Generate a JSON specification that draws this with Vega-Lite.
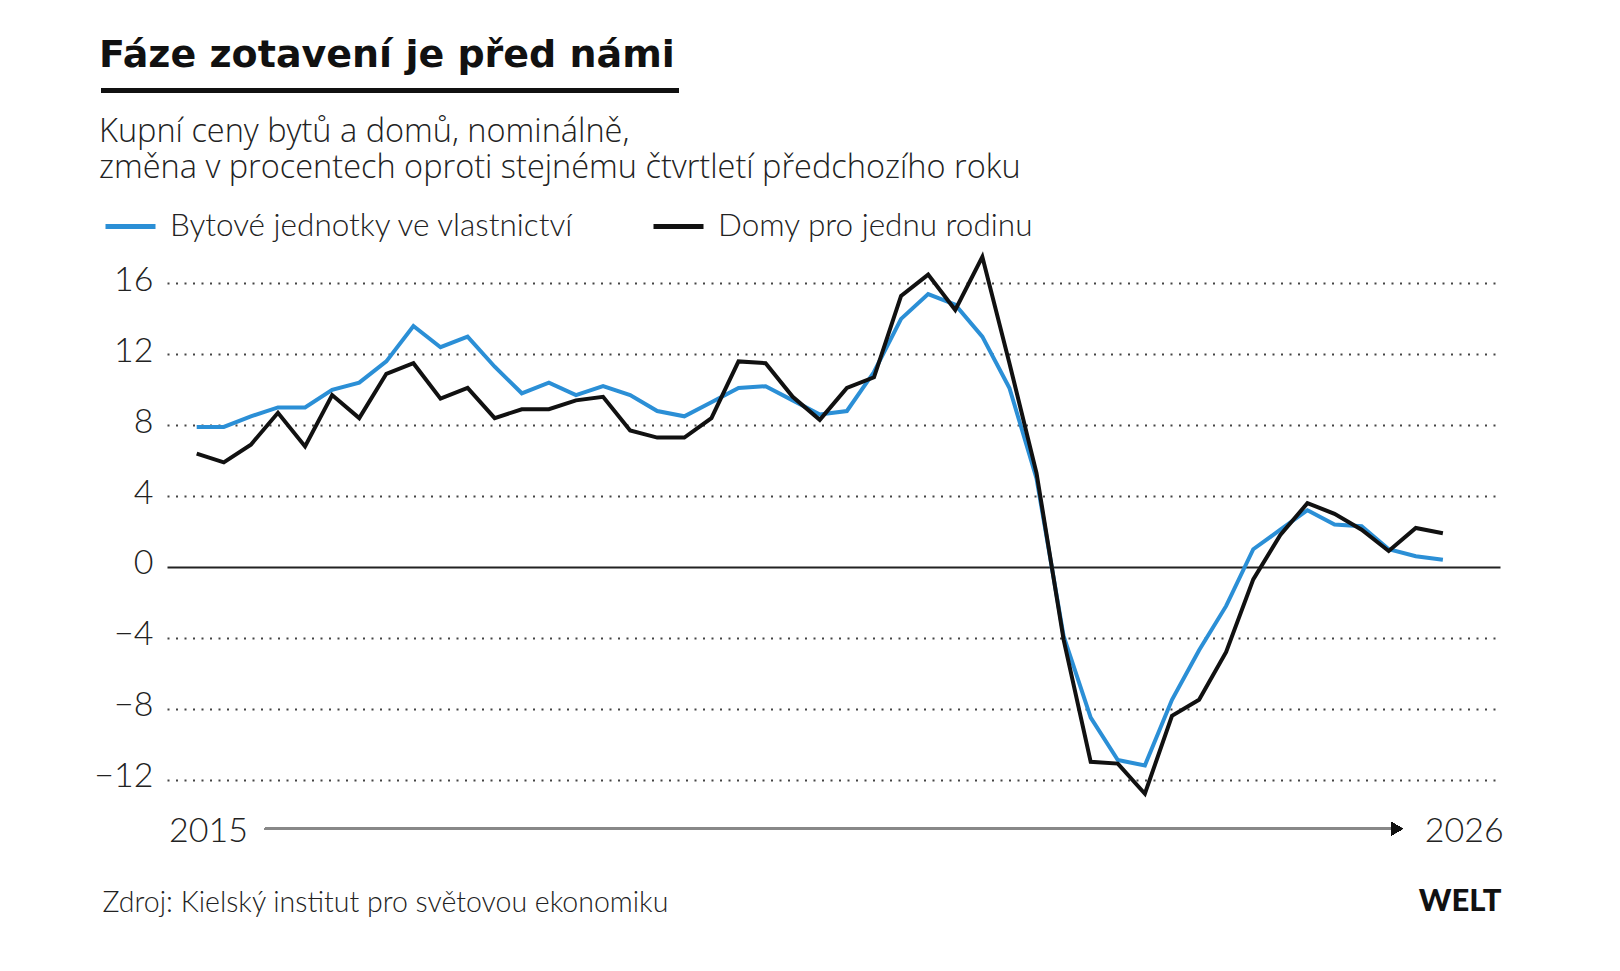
{
  "$schema": "https://vega.github.io/schema/vega-lite/v6.json",
  "width": 1333,
  "height": 567,
  "autosize": {"type": "none"},
  "padding": {"left": 167, "top": 248, "right": 120, "bottom": 156},
  "background": "#ffffff",
  "config": {"view": {"stroke": null}, "font": "Lato"},
  "title": {
    "text": "Fáze zotavení je před námi",
    "subtitle": ["Kupní ceny bytů a domů, nominálně,", "změna v procentech oproti stejnému čtvrtletí předchozího roku"],
    "anchor": "start",
    "frame": "group",
    "dx": -68,
    "dy": 96,
    "offset": 0,
    "font": "DejaVu Sans",
    "fontSize": 38,
    "fontWeight": 700,
    "color": "#111111",
    "subtitleFont": "Open Sans",
    "subtitleFontSize": 32.5,
    "subtitleFontWeight": 300,
    "subtitleColor": "#222222",
    "subtitleLineHeight": 36,
    "subtitlePadding": 41
  },
  "data": {
    "values": [
      {"t": 2015.00, "Bytové jednotky ve vlastnictví": 7.9, "Domy pro jednu rodinu": 6.4},
      {"t": 2015.25, "Bytové jednotky ve vlastnictví": 7.9, "Domy pro jednu rodinu": 5.9},
      {"t": 2015.50, "Bytové jednotky ve vlastnictví": 8.5, "Domy pro jednu rodinu": 6.9},
      {"t": 2015.75, "Bytové jednotky ve vlastnictví": 9.0, "Domy pro jednu rodinu": 8.7},
      {"t": 2016.00, "Bytové jednotky ve vlastnictví": 9.0, "Domy pro jednu rodinu": 6.8},
      {"t": 2016.25, "Bytové jednotky ve vlastnictví": 10.0, "Domy pro jednu rodinu": 9.7},
      {"t": 2016.50, "Bytové jednotky ve vlastnictví": 10.4, "Domy pro jednu rodinu": 8.4},
      {"t": 2016.75, "Bytové jednotky ve vlastnictví": 11.6, "Domy pro jednu rodinu": 10.9},
      {"t": 2017.00, "Bytové jednotky ve vlastnictví": 13.6, "Domy pro jednu rodinu": 11.5},
      {"t": 2017.25, "Bytové jednotky ve vlastnictví": 12.4, "Domy pro jednu rodinu": 9.5},
      {"t": 2017.50, "Bytové jednotky ve vlastnictví": 13.0, "Domy pro jednu rodinu": 10.1},
      {"t": 2017.75, "Bytové jednotky ve vlastnictví": 11.3, "Domy pro jednu rodinu": 8.4},
      {"t": 2018.00, "Bytové jednotky ve vlastnictví": 9.8, "Domy pro jednu rodinu": 8.9},
      {"t": 2018.25, "Bytové jednotky ve vlastnictví": 10.4, "Domy pro jednu rodinu": 8.9},
      {"t": 2018.50, "Bytové jednotky ve vlastnictví": 9.7, "Domy pro jednu rodinu": 9.4},
      {"t": 2018.75, "Bytové jednotky ve vlastnictví": 10.2, "Domy pro jednu rodinu": 9.6},
      {"t": 2019.00, "Bytové jednotky ve vlastnictví": 9.7, "Domy pro jednu rodinu": 7.7},
      {"t": 2019.25, "Bytové jednotky ve vlastnictví": 8.8, "Domy pro jednu rodinu": 7.3},
      {"t": 2019.50, "Bytové jednotky ve vlastnictví": 8.5, "Domy pro jednu rodinu": 7.3},
      {"t": 2019.75, "Bytové jednotky ve vlastnictví": 9.3, "Domy pro jednu rodinu": 8.4},
      {"t": 2020.00, "Bytové jednotky ve vlastnictví": 10.1, "Domy pro jednu rodinu": 11.6},
      {"t": 2020.25, "Bytové jednotky ve vlastnictví": 10.2, "Domy pro jednu rodinu": 11.5},
      {"t": 2020.50, "Bytové jednotky ve vlastnictví": 9.4, "Domy pro jednu rodinu": 9.6},
      {"t": 2020.75, "Bytové jednotky ve vlastnictví": 8.6, "Domy pro jednu rodinu": 8.3},
      {"t": 2021.00, "Bytové jednotky ve vlastnictví": 8.8, "Domy pro jednu rodinu": 10.1},
      {"t": 2021.25, "Bytové jednotky ve vlastnictví": 11.0, "Domy pro jednu rodinu": 10.7},
      {"t": 2021.50, "Bytové jednotky ve vlastnictví": 14.0, "Domy pro jednu rodinu": 15.3},
      {"t": 2021.75, "Bytové jednotky ve vlastnictví": 15.4, "Domy pro jednu rodinu": 16.5},
      {"t": 2022.00, "Bytové jednotky ve vlastnictví": 14.8, "Domy pro jednu rodinu": 14.5},
      {"t": 2022.25, "Bytové jednotky ve vlastnictví": 13.0, "Domy pro jednu rodinu": 17.5},
      {"t": 2022.50, "Bytové jednotky ve vlastnictví": 10.1, "Domy pro jednu rodinu": 11.5},
      {"t": 2022.75, "Bytové jednotky ve vlastnictví": 5.0, "Domy pro jednu rodinu": 5.3},
      {"t": 2023.00, "Bytové jednotky ve vlastnictví": -3.9, "Domy pro jednu rodinu": -4.1},
      {"t": 2023.25, "Bytové jednotky ve vlastnictví": -8.5, "Domy pro jednu rodinu": -11.0},
      {"t": 2023.50, "Bytové jednotky ve vlastnictví": -10.9, "Domy pro jednu rodinu": -11.1},
      {"t": 2023.75, "Bytové jednotky ve vlastnictví": -11.2, "Domy pro jednu rodinu": -12.8},
      {"t": 2024.00, "Bytové jednotky ve vlastnictví": -7.5, "Domy pro jednu rodinu": -8.4},
      {"t": 2024.25, "Bytové jednotky ve vlastnictví": -4.7, "Domy pro jednu rodinu": -7.5},
      {"t": 2024.50, "Bytové jednotky ve vlastnictví": -2.2, "Domy pro jednu rodinu": -4.8},
      {"t": 2024.75, "Bytové jednotky ve vlastnictví": 1.0, "Domy pro jednu rodinu": -0.7},
      {"t": 2025.00, "Bytové jednotky ve vlastnictví": 2.1, "Domy pro jednu rodinu": 1.8},
      {"t": 2025.25, "Bytové jednotky ve vlastnictví": 3.2, "Domy pro jednu rodinu": 3.6},
      {"t": 2025.50, "Bytové jednotky ve vlastnictví": 2.4, "Domy pro jednu rodinu": 3.0},
      {"t": 2025.75, "Bytové jednotky ve vlastnictví": 2.3, "Domy pro jednu rodinu": 2.1},
      {"t": 2026.00, "Bytové jednotky ve vlastnictví": 1.0, "Domy pro jednu rodinu": 0.9},
      {"t": 2026.25, "Bytové jednotky ve vlastnictví": 0.6, "Domy pro jednu rodinu": 2.2},
      {"t": 2026.50, "Bytové jednotky ve vlastnictví": 0.4, "Domy pro jednu rodinu": 1.9}
    ]
  },
  "layer": [
    {
      "transform": [{"fold": ["Bytové jednotky ve vlastnictví", "Domy pro jednu rodinu"], "as": ["serie", "v"]}],
      "mark": {"type": "line", "strokeWidth": 4},
      "encoding": {
        "x": {
          "field": "t",
          "type": "quantitative",
          "scale": {"domain": [2014.726, 2027.027], "nice": false, "zero": false},
          "axis": {
            "values": [2015.104, 2026.693],
            "labelExpr": "datum.value < 2020 ? '2015' : '2026'",
            "grid": false,
            "domain": false,
            "ticks": false,
            "tickSize": 0,
            "labelFlush": false,
            "labelOverlap": false,
            "labelBound": false,
            "labelFont": "Lato",
            "labelFontWeight": 300,
            "labelFontSize": 34,
            "labelColor": "#222222",
            "labelBaseline": "alphabetic",
            "labelPadding": 26,
            "title": "Zdroj: Kielský institut pro světovou ekonomiku",
            "titleFont": "Lato",
            "titleFontWeight": 300,
            "titleFontSize": 28.5,
            "titleColor": "#222222",
            "titleAlign": "left",
            "titleAnchor": "start",
            "titleBaseline": "alphabetic",
            "titleX": -65,
            "titleY": 96
          }
        },
        "y": {
          "field": "v",
          "type": "quantitative",
          "scale": {"domain": [-14, 18], "nice": false, "zero": false},
          "axis": {
            "values": [-12, -8, -4, 0, 4, 8, 12, 16],
            "domain": false,
            "ticks": false,
            "tickSize": 0,
            "labelFont": "Lato",
            "labelFontWeight": 300,
            "labelFontSize": 34,
            "labelColor": "#222222",
            "labelPadding": 14,
            "labelOffset": -3,
            "grid": true,
            "gridColor": {"condition": {"test": "datum.value === 0", "value": "#222222"}, "value": "#444444"},
            "gridWidth": {"condition": {"test": "datum.value === 0", "value": 2}, "value": 2},
            "gridDash": {"condition": {"test": "datum.value === 0", "value": []}, "value": [2, 6.5]},
            "title": "WELT",
            "titleFont": "Lato",
            "titleFontWeight": 900,
            "titleFontSize": 31,
            "titleColor": "#111111",
            "titleAngle": 0,
            "titleAlign": "right",
            "titleBaseline": "alphabetic",
            "titleX": 1334,
            "titleY": 662
          }
        },
        "color": {
          "field": "serie",
          "type": "nominal",
          "scale": {"domain": ["Bytové jednotky ve vlastnictví", "Domy pro jednu rodinu"], "range": ["#2b8fd6", "#111111"]},
          "legend": {
            "orient": "none",
            "legendX": -64,
            "legendY": -49,
            "direction": "horizontal",
            "title": null,
            "padding": 0,
            "offset": 0,
            "symbolType": "stroke",
            "symbolSize": 2500,
            "symbolStrokeWidth": 5,
            "labelFont": "Lato",
            "labelFontWeight": 300,
            "labelFontSize": 31.5,
            "labelColor": "#222222",
            "labelOffset": 12,
            "labelLimit": 800,
            "columnPadding": 68
          }
        }
      }
    },
    {
      "mark": {"type": "rule", "color": "#888888", "strokeWidth": 2.5},
      "encoding": {"x": {"datum": 2015.63}, "x2": {"datum": 2026.03}, "y": {"datum": -14.78}}
    },
    {
      "mark": {"type": "point", "shape": "triangle-right", "filled": true, "color": "#111111", "size": 170, "opacity": 1},
      "encoding": {"x": {"datum": 2026.076}, "y": {"datum": -14.78}}
    },
    {
      "mark": {"type": "rule", "color": "#111111", "strokeWidth": 4},
      "encoding": {"x": {"datum": 2014.117}, "x2": {"datum": 2019.45}, "y": {"datum": 26.89}}
    }
  ]
}
